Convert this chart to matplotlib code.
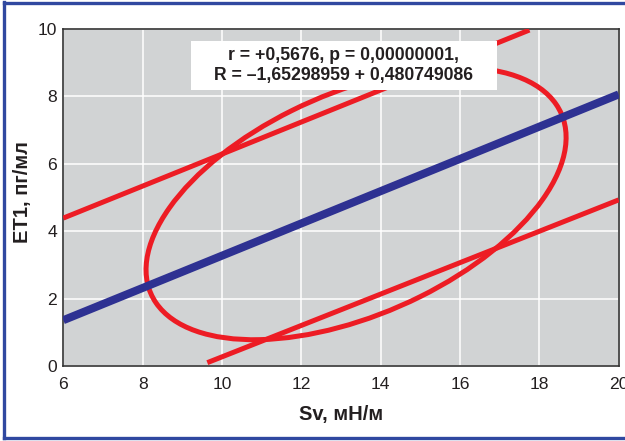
import matplotlib
matplotlib.use("Agg")
import matplotlib.pyplot as plt
from matplotlib.patches import Ellipse, Rectangle
from matplotlib.lines import Line2D

# ---- data ----
x_ticks = [6, 8, 10, 12, 14, 16, 18, 20]
y_ticks = [0, 2, 4, 6, 8, 10]

regression_x = [6, 20]
regression_y = [1.36, 8.06]

upper_band_x = [6, 17.75]
upper_band_y = [4.39, 9.97]

lower_band_x = [9.63, 20]
lower_band_y = [0.10, 4.93]

ellipse_center = (13.38, 4.82)
ellipse_width = 11.68
ellipse_height = 6.40
ellipse_angle = 30.3

stats_text = "r = +0,5676, p = 0,00000001,\nR = \u20131,65298959 + 0,480749086"
x_label = "Sv, мН/м"
y_label = "ET1, пг/мл"

# ---- style ----
plt.rcParams['font.family'] = ['Liberation Sans', 'DejaVu Sans']
BG = '#d1d3d4'
BLUE = '#2e3192'
RED = '#ed1c24'
BORDER = '#3048a0'
TXT = '#231f20'

fig = plt.figure(figsize=(6.25, 4.41), dpi=100)
fig.patch.set_facecolor('white')
ax = fig.add_axes([0.1013, 0.170, 0.8886, 0.7642])
ax.set_facecolor(BG)
ax.set_xlim(6, 20)
ax.set_ylim(0, 10)
ax.set_xticks(x_ticks)
ax.set_yticks(y_ticks)
ax.grid(True, color='white', linewidth=1.1)
ax.set_axisbelow(True)
ax.tick_params(axis='both', length=0, labelsize=12.6, colors=TXT)
ax.tick_params(axis='x', pad=8.0)
ax.tick_params(axis='y', pad=4.3)
for s in ax.spines.values():
    s.set_color('#333333')
    s.set_linewidth(1.2)

ax.plot(upper_band_x, upper_band_y, color=RED, lw=3.6, solid_capstyle='butt', zorder=3)
ax.plot(lower_band_x, lower_band_y, color=RED, lw=3.6, solid_capstyle='butt', zorder=3)
ax.add_patch(Ellipse(ellipse_center, ellipse_width, ellipse_height, angle=ellipse_angle,
                     fill=False, edgecolor=RED, lw=3.6, zorder=3))
ax.plot(regression_x, regression_y, color=BLUE, lw=5.8, solid_capstyle='butt', zorder=4)

ax.add_patch(Rectangle((0.230, 0.819), 0.551, 0.145, transform=ax.transAxes,
                       facecolor='white', edgecolor='none', zorder=5))
ax.text(0.5045, 0.8915, stats_text, transform=ax.transAxes, ha='center', va='center',
        fontsize=12.7, fontweight='bold', color=TXT, linespacing=1.2, zorder=6)

ax.set_xlabel(x_label, fontsize=14.5, fontweight='bold', color=TXT, labelpad=9.5)
ax.set_ylabel(y_label, fontsize=14.5, fontweight='bold', color=TXT)
ax.yaxis.set_label_coords(-0.056, 0.515)

# figure border (right side cropped in reference)
for xs, ys in [([0.006, 1.0], [0.9935, 0.9935]), ([0.006, 1.0], [0.0075, 0.0075]),
               ([0.0065, 0.0065], [0.006, 0.995])]:
    fig.add_artist(Line2D(xs, ys, transform=fig.transFigure, color=BORDER, lw=2.4))

fig.savefig('out.png', dpi=100)
